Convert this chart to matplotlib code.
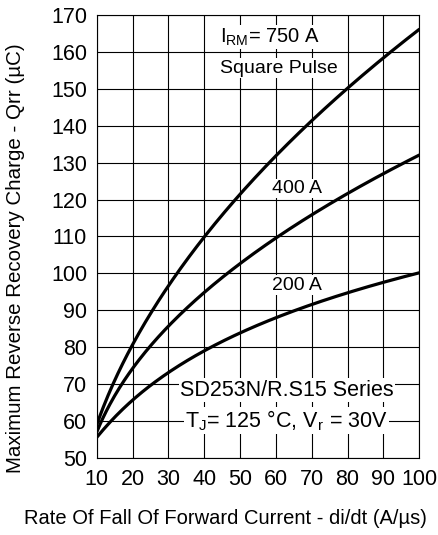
import numpy as np
import matplotlib
matplotlib.use('Agg')
import matplotlib.pyplot as plt

# values
didt = [10, 20, 30, 40, 50, 60, 70, 80, 90, 100]
qrr_750 = [59, 81, 96, 110, 122.5, 131, 141, 150, 159.5, 165.5]
qrr_400 = [57, 74.5, 85.5, 94.6, 102.7, 109.8, 116, 121.5, 127, 132]
qrr_200 = [55.6, 65.7, 72.9, 79.2, 84.2, 87.8, 91.4, 94.6, 97.7, 100.2]

x_ticks = [10, 20, 30, 40, 50, 60, 70, 80, 90, 100]
y_ticks = [50, 60, 70, 80, 90, 100, 110, 120, 130, 140, 150, 160, 170]

plt.rc('font', family=['Liberation Sans', 'DejaVu Sans'])

fig = plt.figure(figsize=(4.38, 5.35), dpi=100)
ax = fig.add_axes([0.221, 0.144, 0.736, 0.828])

# smooth through the read points
xs = np.linspace(10, 100, 200)
for q in (qrr_750, qrr_400, qrr_200):
	c = np.polyfit(np.log(didt), q, 3)
	ax.plot(xs, np.polyval(c, np.log(xs)), color='black', lw=2.3, solid_capstyle='round', zorder=3)

ax.set_xlim(10, 100)
ax.set_ylim(50, 170)
ax.set_xticks(x_ticks)
ax.set_yticks(y_ticks)
ax.grid(True, color='black', lw=0.8)
ax.tick_params(length=0, labelsize=15.5)
ax.tick_params(axis='y', pad=7)
ax.tick_params(axis='x', pad=8)
for s in ax.spines.values():
	s.set_linewidth(0.8)

bbox = dict(facecolor='white', edgecolor='none', pad=1)
ax.text(58.4, 164, r'I$_{\mathregular{RM}}$= 750 A', fontsize=14.5, ha='center', va='center', bbox=bbox, zorder=4)
ax.text(60.9, 155.6, 'Square Pulse', fontsize=14, ha='center', va='center', bbox=bbox, zorder=4)
ax.text(65.9, 123, '400 A', fontsize=14, ha='center', va='center', bbox=bbox, zorder=4)
ax.text(65.9, 96.8, '200 A', fontsize=14, ha='center', va='center', bbox=bbox, zorder=4)
ax.text(63, 68.4, 'SD253N/R.S15 Series', fontsize=15.5, ha='center', va='center', bbox=bbox, zorder=4)
ax.text(63, 60.2, r'T$_{\mathregular{J}}$= 125 °C, V$_{\mathregular{r}}$ = 30V', fontsize=15.5, ha='center', va='center', bbox=bbox, zorder=4)

ax.set_ylabel('Maximum Reverse Recovery Charge - Qrr (µC)', fontsize=14.8)
ax.yaxis.set_label_coords(-0.222, 0.45)
ax.set_xlabel('Rate Of Fall Of Forward Current - di/dt (A/µs)', fontsize=14.5)
ax.xaxis.set_label_coords(0.40, -0.115)

fig.savefig('out.png', dpi=100)
